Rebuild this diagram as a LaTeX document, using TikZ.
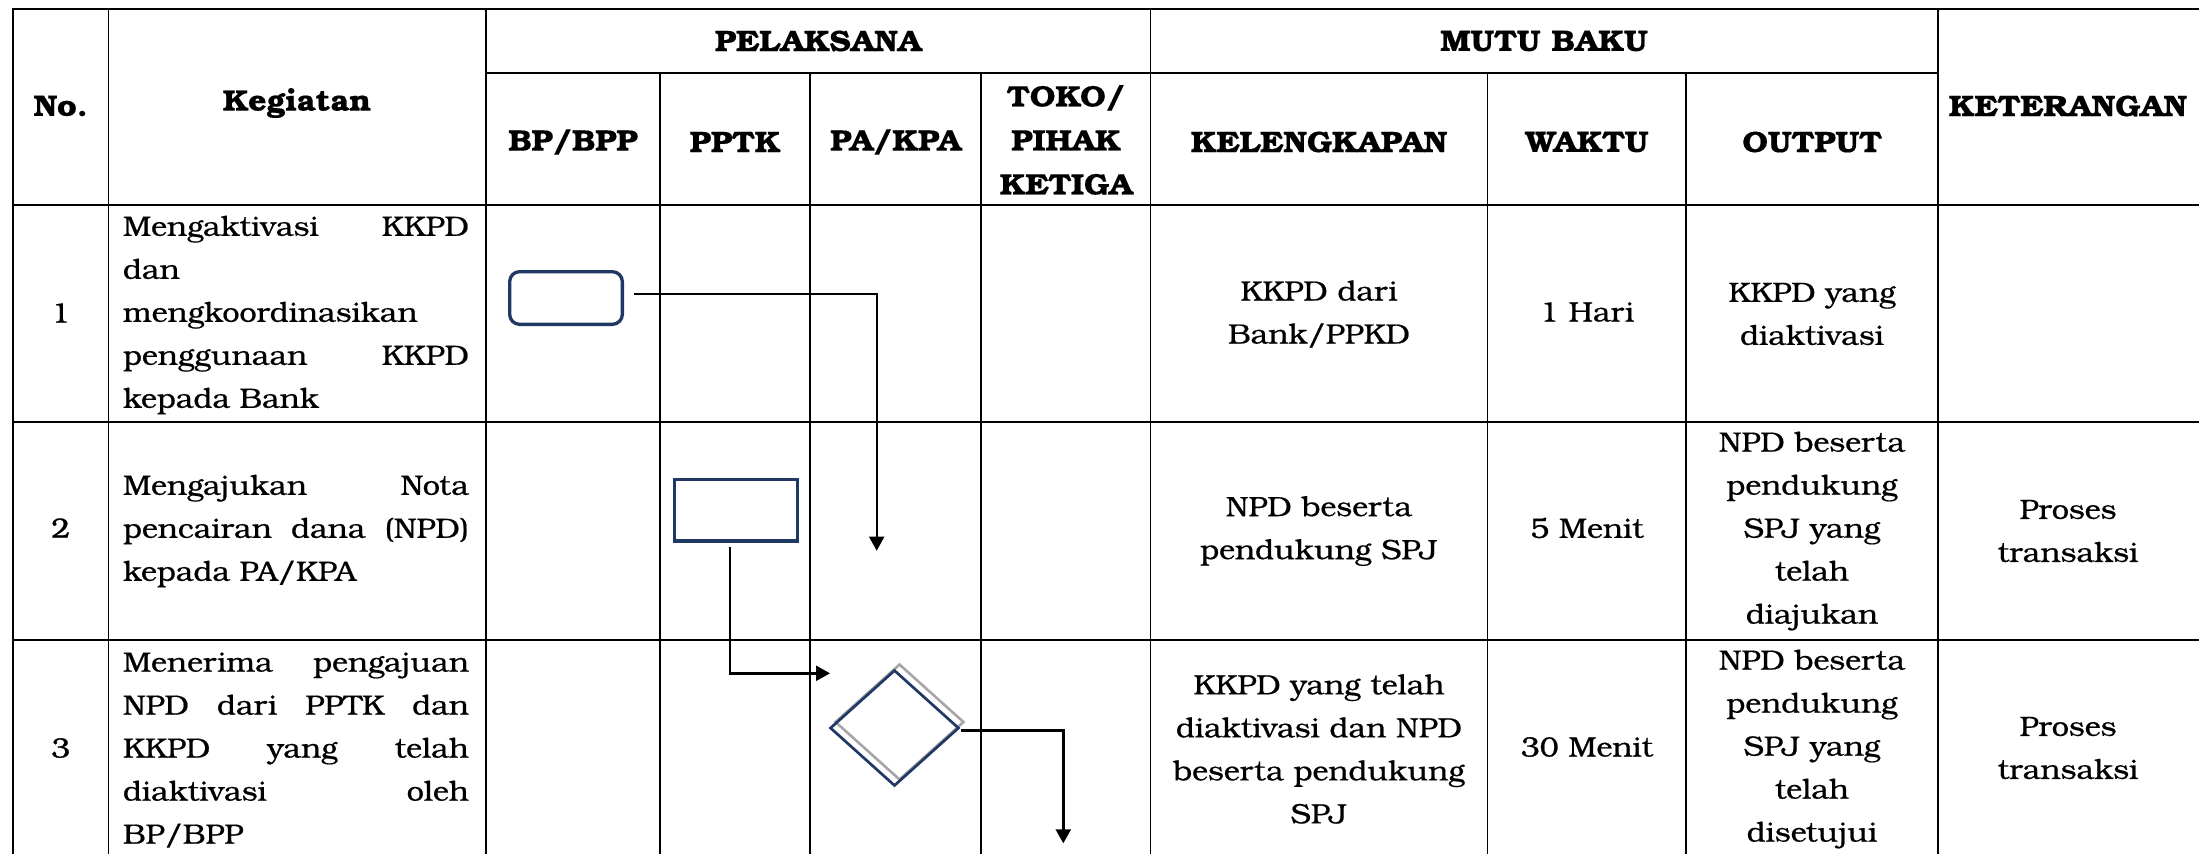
\documentclass[tikz,border=0pt]{standalone}
\usepackage{fontspec}
\setmainfont{texgyrebonum-regular.otf}[BoldFont=texgyrebonum-bold.otf, FakeStretch=1.09, UprightFeatures={FakeBold=0.6}, BoldFeatures={FakeBold=0.5}]
\usetikzlibrary{arrows.meta,shapes.geometric}
\definecolor{navy}{RGB}{31,56,100}
\definecolor{shgray}{RGB}{166,166,166}
\begin{document}
\begin{tikzpicture}[x=1pt,y=-1pt,
  hline/.style={line width=2pt},
  vline/.style={line width=1.6pt},
  hdr/.style={font=\fontsize{29.5}{44}\selectfont\bfseries, align=center, inner sep=0pt},
  cell/.style={font=\fontsize{28}{43}\selectfont, align=center, inner sep=0pt},
  keg/.style={font=\fontsize{28}{43}\selectfont, align=left, text width=346pt, inner sep=0pt},
  arr/.style={draw=black, line width=2pt, -{Triangle[length=14pt,width=15pt]}},
]
\useasboundingbox (0,0) rectangle (2199,854);
% grid
\draw[hline] (13,9) -- (2199,9);
\draw[hline] (486,73) -- (1938,73);
\draw[hline] (13,204.5) -- (2199,204.5);
\draw[hline] (13,421.5) -- (2199,421.5);
\draw[hline] (13,639.5) -- (2199,639.5);
\foreach \x in {13,108.5,486,1150.5,1938} \draw[vline] (\x,8) -- (\x,854);
\foreach \x in {660,810,981,1487.6,1686} \draw[vline] (\x,73) -- (\x,854);
% headers
\node[hdr] (hno) at (60.7,106) {No.};
\node[hdr] (hkeg) at (297,103) {Kegiatan};
\node[hdr] (hpel) at (818,41) {PELAKSANA};
\node[hdr] (hmutu) at (1544,41) {MUTU BAKU};
\node[hdr] (hbp) at (573,142) {BP/BPP};
\node[hdr] (hpptk) at (735,142) {PPTK};
\node[hdr] (hpa) at (895.5,142) {PA/KPA};
\node[hdr] (htoko) at (1066,140) {TOKO/\\PIHAK\\KETIGA};
\node[hdr] (hkel) at (1319,142) {KELENGKAPAN};
\node[hdr] (hwaktu) at (1587,142) {WAKTU};
\node[hdr] (hout) at (1812,142) {OUTPUT};
\node[hdr] (hket) at (2068,106) {KETERANGAN};
% numbers
\node[cell] (n1) at (60.7,313) {1};
\node[cell] (n2) at (60.7,528) {2};
\node[cell] (n3) at (60.7,748) {3};
% kegiatan
\node[keg] (k1) at (296,315) {Mengaktivasi\hfill KKPD\\ dan\\ mengkoordinasikan\\ penggunaan\hfill KKPD\\ kepada Bank};
\node[keg] (k2) at (296,531) {Mengajukan\hfill Nota\\ pencairan\hfill dana\hfill (NPD)\\ kepada PA/KPA};
\node[keg] (k3) at (296,750) {Menerima\hfill pengajuan\\ NPD\hfill dari\hfill PPTK\hfill dan\\ KKPD\hfill yang\hfill telah\\ diaktivasi\hfill oleh\\ BP/BPP};
% mutu baku
\node[cell] (kel1) at (1319,314) {KKPD dari\\Bank/PPKD};
\node[cell] (w1) at (1587,312) {1 Hari};
\node[cell] (o1) at (1812,314) {KKPD yang\\diaktivasi};
\node[cell] (kel2) at (1319,531) {NPD beserta\\pendukung SPJ};
\node[cell] (w2) at (1587,528) {5 Menit};
\node[cell] (o2) at (1812,531) {NPD beserta\\pendukung\\SPJ yang\\telah\\diajukan};
\node[cell] (ket2) at (2068,531) {Proses\\transaksi};
\node[cell] (kel3) at (1319,749) {KKPD yang telah\\diaktivasi dan NPD\\beserta pendukung\\SPJ};
\node[cell] (w3) at (1587,747) {30 Menit};
\node[cell] (o3) at (1812,749) {NPD beserta\\pendukung\\SPJ yang\\telah\\disetujui};
\node[cell] (ket3) at (2068,748) {Proses\\transaksi};
% flow shapes
\node[draw=navy, line width=3.3pt, rounded corners=10pt, minimum width=112.7pt, minimum height=52.7pt, inner sep=0pt] (s1) at (566,298) {};
\node[draw=navy, line width=3.3pt, minimum width=123pt, minimum height=61.7pt, inner sep=0pt] (s2) at (736,510) {};
\node[diamond, draw=shgray, line width=2.6pt, minimum width=129pt, minimum height=116pt, inner sep=0pt] (s3sh) at (899.5,722) {};
\node[diamond, draw=navy, line width=2.7pt, minimum width=129pt, minimum height=116pt, inner sep=0pt] (s3) at (894.5,728) {};
% connectors
\coordinate (c1e) at (876.7,550.7);
\coordinate (c2e) at (830,673.3);
\coordinate (c3e) at (1063.3,843.3);
\draw[arr, line width=1.8pt] ([shift={(9.5pt,4pt)}]s1.east) -| (c1e);
\draw[arr, line width=2.4pt] ([shift={(-6pt,-4pt)}]s2.south) |- (c2e);
\draw[arr, line width=2.6pt] ([shift={(1pt,-2.4pt)}]s3.east) -| (c3e);
\end{tikzpicture}
\end{document}
